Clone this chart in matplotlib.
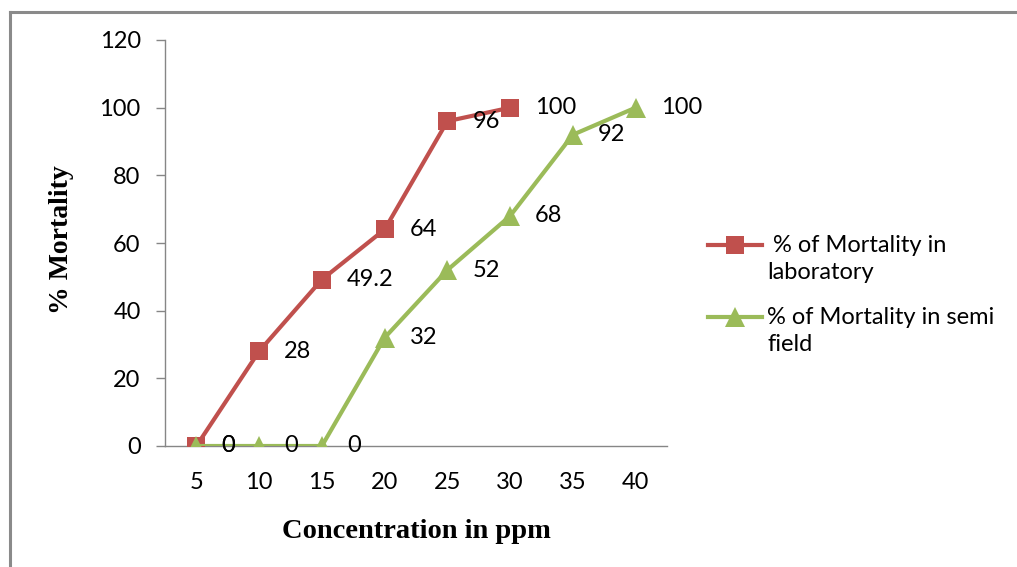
import matplotlib
matplotlib.use("Agg")
import matplotlib.pyplot as plt
from matplotlib.lines import Line2D

# concentration categories (ppm) and % mortality per setting
concentrations = ["5", "10", "15", "20", "25", "30", "35", "40"]
lab_mortality = [0, 28, 49.2, 64, 96, 100]
semi_field_mortality = [0, 0, 0, 32, 52, 68, 92, 100]
lab_labels = ["0", "28", "49.2", "64", "96", "100"]
semi_labels = ["0", "0", "0", "32", "52", "68", "92", "100"]

RED = "#C0504D"
GREEN = "#9BBB59"
GRAY = "#868686"
FS = 17

W, H = 1017, 567
fig = plt.figure(figsize=(W / 100, H / 100), dpi=100)
plt.rcParams["font.family"] = ["Lato", "DejaVu Sans"]

# outer frame (top and left edges only)
fig.add_artist(Line2D([10 / W, 10 / W], [0, 1 - 12 / H], color="#8a8a8a", lw=2.2))
fig.add_artist(Line2D([10 / W, 1], [1 - 12 / H, 1 - 12 / H], color="#8a8a8a", lw=2.2))

ax = fig.add_axes([165 / W, 121 / H, 502 / W, 406 / H])

x_lab = list(range(len(lab_mortality)))
x_semi = list(range(len(semi_field_mortality)))

ax.plot(x_lab, lab_mortality, color=RED, lw=3.0, marker="s", ms=13,
        markeredgewidth=0, zorder=3)
ax.plot(x_semi, semi_field_mortality, color=GREEN, lw=3.0, marker="^", ms=15,
        markeredgewidth=0, zorder=4)

for x, y, t in zip(x_lab, lab_mortality, lab_labels):
    ax.annotate(t, (x, y), xytext=(18, 0), textcoords="offset points",
                ha="left", va="center", fontsize=FS, color="black", zorder=5)
for x, y, t in zip(x_semi, semi_field_mortality, semi_labels):
    ax.annotate(t, (x, y), xytext=(18, 0), textcoords="offset points",
                ha="left", va="center", fontsize=FS, color="black", zorder=5)

ax.set_xlim(-0.5, len(concentrations) - 0.5)
ax.set_ylim(0, 120)
ax.set_yticks(range(0, 121, 20))
ax.set_xticks(range(len(concentrations)))
ax.set_xticklabels(concentrations)

for side in ("top", "right"):
    ax.spines[side].set_visible(False)
for side in ("left", "bottom"):
    ax.spines[side].set_color(GRAY)
    ax.spines[side].set_linewidth(1.0)

ax.tick_params(axis="y", direction="out", length=6.5, width=1.0, color=GRAY,
               pad=11, labelsize=FS)
ax.tick_params(axis="x", length=0, pad=19, labelsize=FS)

fig.text(62 / W, 1 - 240 / H, "% Mortality", rotation=90, ha="center", va="center",
         fontsize=20, fontweight="bold", family="Liberation Serif")
fig.text(416 / W, 1 - 532 / H, "Concentration in ppm", ha="center", va="center",
         fontsize=20.5, fontweight="bold", family="Liberation Serif")

# legend drawn by hand so the key sits on the first text line
legend_items = [
    (RED, "s", 13, 245, " % of Mortality in\nlaboratory"),
    (GREEN, "^", 15, 317, "% of Mortality in semi\nfield"),
]
for color, mk, ms, ypix, label in legend_items:
    yf = 1 - ypix / H
    fig.add_artist(Line2D([708 / W, 762 / W], [yf, yf], color=color, lw=3.0))
    fig.add_artist(Line2D([735 / W], [yf], color=color, marker=mk, ms=ms,
                          markeredgewidth=0, lw=0))
    fig.text(767 / W, yf + 10 / H, label, ha="left", va="top", fontsize=FS,
             linespacing=1.38)

fig.savefig("out.png", dpi=100)
